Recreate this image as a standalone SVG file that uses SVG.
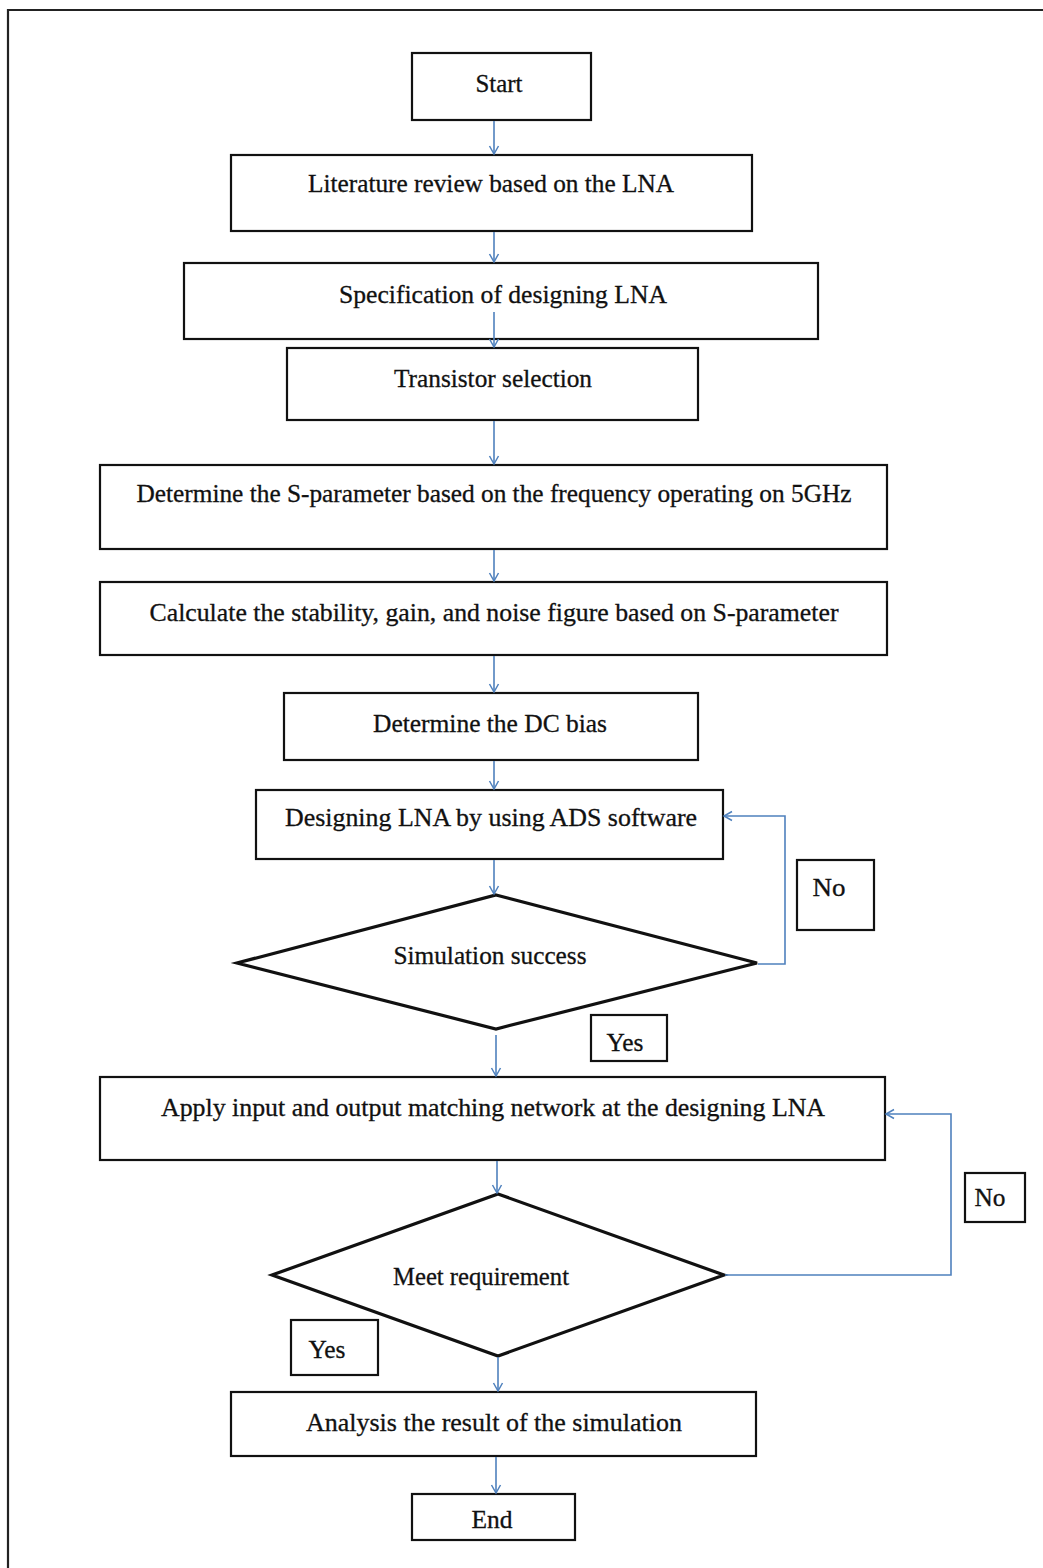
<svg xmlns="http://www.w3.org/2000/svg" width="1043" height="1568" viewBox="0 0 1043 1568">
<defs>
<marker id="arr" markerUnits="userSpaceOnUse" markerWidth="12" markerHeight="12" refX="9" refY="6" orient="auto">
<path d="M1,1.5 L9,6 L1,10.5" fill="none" stroke="#4f81bd" stroke-width="1.5"/>
</marker>
<style>
.box{fill:#fff;stroke:#111;stroke-width:2.2}
.dia{fill:#fff;stroke:#111;stroke-width:3.2;stroke-linejoin:miter}
.t{font-family:"Liberation Serif","Times New Roman",serif;font-size:25px;fill:#111;stroke:#111;stroke-width:0.3;text-anchor:middle}
.c{fill:none;stroke:#4f81bd;stroke-width:1.6}
.frame{fill:none;stroke:#222;stroke-width:2.2}
</style>
</defs>
<rect width="1043" height="1568" fill="#fff"/>
<path class="frame" d="M8,1568 L8,10 L1043,10"/>

<g id="start"><rect class="box" x="412" y="53" width="179" height="67"/><text class="t" x="499" y="92" textLength="47" lengthAdjust="spacingAndGlyphs">Start</text></g>
<g id="literature"><rect class="box" x="231" y="155" width="521" height="76"/><text class="t" x="491" y="192" textLength="366" lengthAdjust="spacingAndGlyphs">Literature review based on the LNA</text></g>
<g id="specification"><rect class="box" x="184" y="263" width="634" height="76"/><text class="t" x="503" y="303" textLength="328" lengthAdjust="spacingAndGlyphs">Specification of designing LNA</text></g>
<g id="transistor"><rect class="box" x="287" y="348" width="411" height="72"/><text class="t" x="493" y="387" textLength="198" lengthAdjust="spacingAndGlyphs">Transistor selection</text></g>
<g id="sparam"><rect class="box" x="100" y="465" width="787" height="84"/><text class="t" x="494" y="502" textLength="715" lengthAdjust="spacingAndGlyphs">Determine the S-parameter based on the frequency operating on 5GHz</text></g>
<g id="calculate"><rect class="box" x="100" y="582" width="787" height="73"/><text class="t" x="494" y="621" textLength="689" lengthAdjust="spacingAndGlyphs">Calculate the stability, gain, and noise figure based on S-parameter</text></g>
<g id="dcbias"><rect class="box" x="284" y="693" width="414" height="67"/><text class="t" x="490" y="732" textLength="234" lengthAdjust="spacingAndGlyphs">Determine the DC bias</text></g>
<g id="designing"><rect class="box" x="256" y="790" width="467" height="69"/><text class="t" x="491" y="826" textLength="412" lengthAdjust="spacingAndGlyphs">Designing LNA by using ADS software</text></g>
<g id="simulation"><polygon class="dia" points="496,895 757,963 496,1029 237,963"/><text class="t" x="490" y="964" textLength="193" lengthAdjust="spacingAndGlyphs">Simulation success</text></g>
<g id="no1"><rect class="box" x="797" y="860" width="77" height="70"/><text class="t" x="829" y="896" textLength="33" lengthAdjust="spacingAndGlyphs">No</text></g>
<g id="yes1"><rect class="box" x="591" y="1015" width="76" height="46"/><text class="t" x="625" y="1051" textLength="37" lengthAdjust="spacingAndGlyphs">Yes</text></g>
<g id="apply"><rect class="box" x="100" y="1077" width="785" height="83"/><text class="t" x="493" y="1116" textLength="664" lengthAdjust="spacingAndGlyphs">Apply input and output matching network at the designing LNA</text></g>
<g id="meet"><polygon class="dia" points="498,1194 724,1275 498,1356 272,1275"/><text class="t" x="481" y="1285" textLength="176" lengthAdjust="spacingAndGlyphs">Meet requirement</text></g>
<g id="no2"><rect class="box" x="965" y="1173" width="60" height="49"/><text class="t" x="990" y="1206" textLength="31" lengthAdjust="spacingAndGlyphs">No</text></g>
<g id="yes2"><rect class="box" x="291" y="1320" width="87" height="55"/><text class="t" x="327" y="1358" textLength="37" lengthAdjust="spacingAndGlyphs">Yes</text></g>
<g id="analysis"><rect class="box" x="231" y="1392" width="525" height="64"/><text class="t" x="494" y="1431" textLength="376" lengthAdjust="spacingAndGlyphs">Analysis the result of the simulation</text></g>
<g id="end"><rect class="box" x="412" y="1494" width="163" height="46"/><text class="t" x="492" y="1528" textLength="41" lengthAdjust="spacingAndGlyphs">End</text></g>

<g id="connectors">
<path class="c" marker-end="url(#arr)" d="M494,121 L494,154"/>
<path class="c" marker-end="url(#arr)" d="M494,232 L494,262"/>
<path class="c" marker-end="url(#arr)" d="M494,312 L494,347"/>
<path class="c" marker-end="url(#arr)" d="M494,421 L494,464"/>
<path class="c" marker-end="url(#arr)" d="M494,550 L494,581"/>
<path class="c" marker-end="url(#arr)" d="M494,656 L494,692"/>
<path class="c" marker-end="url(#arr)" d="M494,761 L494,789"/>
<path class="c" marker-end="url(#arr)" d="M494,860 L494,894"/>
<path class="c" marker-end="url(#arr)" d="M496,1035 L496,1076"/>
<path class="c" marker-end="url(#arr)" d="M758,964 L785,964 L785,816 L724,816"/>
<path class="c" marker-end="url(#arr)" d="M497,1161 L497,1193"/>
<path class="c" marker-end="url(#arr)" d="M725,1275 L951,1275 L951,1114 L886,1114"/>
<path class="c" marker-end="url(#arr)" d="M498,1357 L498,1391"/>
<path class="c" marker-end="url(#arr)" d="M496,1457 L496,1493"/>
</g>
</svg>
